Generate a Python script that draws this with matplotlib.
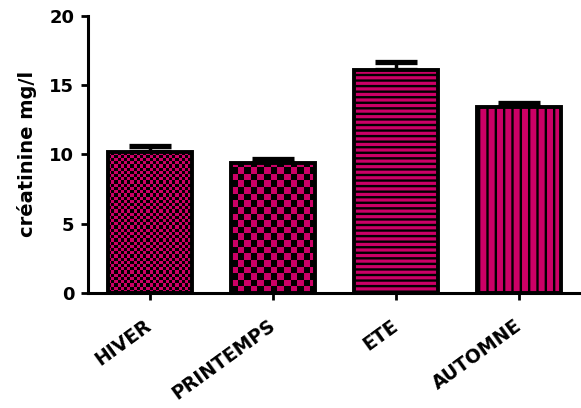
import numpy as np
import matplotlib
matplotlib.use("Agg")
import matplotlib.pyplot as plt
from matplotlib.colors import ListedColormap

plt.rcParams['font.family'] = ['DejaVu Sans']
plt.rcParams['font.weight'] = 'bold'
plt.rcParams['hatch.linewidth'] = 1.7
plt.rcParams['hatch.color'] = 'black'

saisons = ["HIVER", "PRINTEMPS", "ETE", "AUTOMNE"]
creatinine = [10.2, 9.35, 16.1, 13.4]
sem = [0.4, 0.35, 0.55, 0.3]
yticks = [0, 5, 10, 15, 20]

pink = '#CC0066'
W, H, DPI = 581, 408, 100
fig = plt.figure(figsize=(W / DPI, H / DPI), dpi=DPI)
ax = fig.add_axes([0.1515, 0.282, 0.8485, 0.679])

x = np.arange(len(saisons))
width = 0.68
ax.set_xlim(-0.5, len(saisons) - 0.5)
ax.set_ylim(0, 20)

fills = ['none', 'none', pink, pink]
hatches = [None, None, '---', '||']
bars = ax.bar(x, creatinine, width=width, color=fills, edgecolor='black',
              linewidth=2.8, zorder=3)
for b, h in zip(bars, hatches):
    if h:
        b.set_hatch(h)

ax.errorbar(x, creatinine, yerr=[np.zeros(len(sem)), sem], fmt='none',
            ecolor='black', elinewidth=2.5, capsize=15, capthick=3.8, zorder=2)

# checkerboard fill for the first two bars
fig.canvas.draw()
px_per_x = ax.bbox.width / (ax.get_xlim()[1] - ax.get_xlim()[0])
px_per_y = ax.bbox.height / (ax.get_ylim()[1] - ax.get_ylim()[0])
cmap = ListedColormap(['black', pink])
for b, cell in zip(bars[:2], [3.2, 6.6]):
    x0, y0 = b.get_x(), b.get_y()
    bw, bh = b.get_width(), b.get_height()
    nx = int(np.ceil(bw * px_per_x / cell))
    ny = int(np.ceil(bh * px_per_y / cell))
    grid = (np.add.outer(np.arange(ny), np.arange(nx)) % 2).astype(float)
    im = ax.imshow(grid, cmap=cmap, interpolation='nearest', origin='lower',
                   extent=[x0, x0 + nx * cell / px_per_x, y0, y0 + ny * cell / px_per_y],
                   aspect='auto', zorder=2.5)
    im.set_clip_path(b)

ax.set_xlim(-0.5, len(saisons) - 0.5)
ax.set_ylim(0, 20)

ax.spines['top'].set_visible(False)
ax.spines['right'].set_visible(False)
ax.spines['left'].set_linewidth(2.2)
ax.spines['bottom'].set_linewidth(2.2)

ax.set_yticks(yticks)
ax.set_yticklabels([str(v) for v in yticks], fontsize=13, fontweight='bold')
ax.set_xticks(x)
ax.set_xticklabels(saisons, rotation=36, ha='right', va='center',
                   rotation_mode='anchor', fontsize=13.5, fontweight='bold')
ax.tick_params(axis='both', length=5, width=2, direction='out')
ax.tick_params(axis='y', pad=5)
ax.tick_params(axis='x', pad=17)
ax.set_ylabel('créatinine mg/l', fontsize=14, fontweight='bold', labelpad=9)

fig.savefig('out.png', dpi=DPI)
